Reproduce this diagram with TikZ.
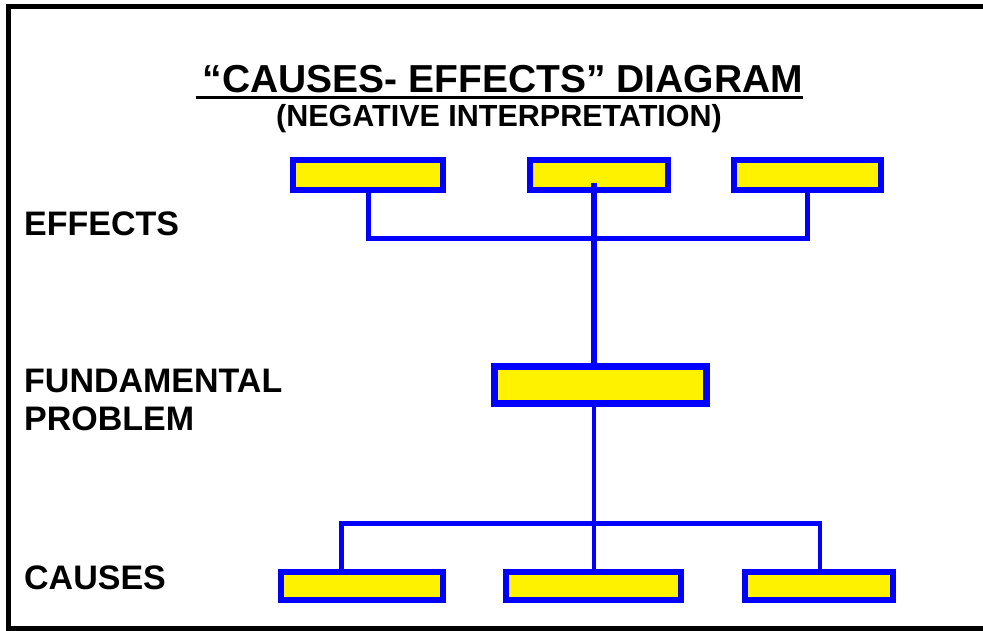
\documentclass[tikz,border=0pt]{standalone}
\usepackage{fontspec}
\setmainfont{Liberation Sans}
\begin{document}
\begin{tikzpicture}[
        x=1pt, y=-1pt,
        probbox/.style={draw=blue, fill=yellow, line width=6pt, inner sep=0pt},
        corebox/.style={draw=blue, fill=yellow, line width=7pt, inner sep=0pt},
        link/.style={draw=blue, line width=5pt},
        thinlink/.style={draw=blue, line width=3.5pt},
        trunk/.style={draw=blue, line width=6.5pt},
        side/.style={font=\fontsize{34}{38}\selectfont\bfseries, inner sep=0pt, align=left},
    ]
    \useasboundingbox (0,0) rectangle (983,630);

    % Frame
    \draw[line width=5pt] (990,6.5) -| (8.5,628) -- (990,628);

    % Title
    \node[font=\fontsize{39}{44}\selectfont\bfseries, inner sep=0pt, anchor=base] (title) at (503,92) {“CAUSES- EFFECTS” DIAGRAM};
    \draw[line width=3pt] ([xshift=-7pt,yshift=-5pt]title.base west) -- ([yshift=-5pt]title.base east);
    \node[font=\fontsize{30.5}{34}\selectfont\bfseries, inner sep=0pt, anchor=base] (subtitle) at (499,126) {(NEGATIVE INTERPRETATION)};

    % Labels
    \node[side, anchor=base west] (effects) at (24,235) {EFFECTS};
    \node[side, anchor=base west] (fundamental) at (24,430) {FUNDAMENTAL\\PROBLEM};
    \node[side, anchor=base west] (causes) at (24,589) {CAUSES};

    % Boxes
    \node[probbox, minimum width=150pt, minimum height=30pt] (eff1) at (368,175) {};
    \node[probbox, minimum width=138pt, minimum height=30pt] (eff2) at (599,175) {};
    \node[probbox, minimum width=147pt, minimum height=30pt] (eff3) at (807.5,175) {};
    \node[corebox, minimum width=212pt, minimum height=37pt] (core) at (600,385) {};
    \node[probbox, minimum width=162pt, minimum height=28pt] (cau1) at (362,586) {};
    \node[probbox, minimum width=175pt, minimum height=28pt] (cau2) at (593.5,586) {};
    \node[probbox, minimum width=148pt, minimum height=28pt] (cau3) at (819,586) {};

    % Connect effects to problem
    \coordinate (etop) at (594,238);
    \coordinate (ttop) at (594,183);
    \draw[link] (eff1.south) |- (etop) -| (eff3.south);
    \draw[trunk] (ttop) -- (ttop |- core.north);

    % Connect problem to causes
    \coordinate (cmid) at (594,523);
    \coordinate (cleft) at (341,523);
    \coordinate (cright) at (820,523);
    \draw[thinlink] (cmid |- core.south) -- ([yshift=-4pt]cmid |- cau2.north);
    \draw[link] (cleft |- cau1.north) -- (cleft) -- (cright);
    \draw[thinlink] ([yshift=2.5pt]cright) -- (cright |- cau3.north);
\end{tikzpicture}
\end{document}
